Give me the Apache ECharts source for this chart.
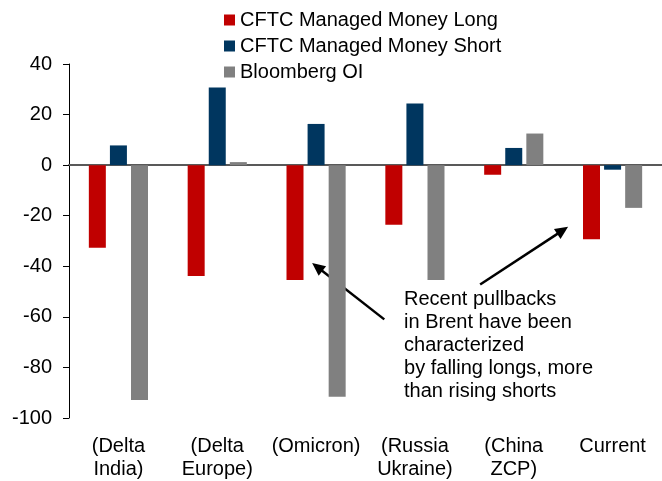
<!DOCTYPE html>
<html>
<head>
<meta charset="utf-8">
<script src="https://cdn.jsdelivr.net/npm/echarts@6/dist/echarts.min.js"></script>
<style>
html,body{margin:0;padding:0;background:#fff;}
#chart{width:662px;height:481px;}
</style>
</head>
<body>
<div id="chart"></div>
<script>
const categories = ['(Delta\nIndia)', '(Delta\nEurope)', '(Omicron)', '(Russia\nUkraine)', '(China\nZCP)', 'Current'];
const seriesNames = ['CFTC Managed Money Long', 'CFTC Managed Money Short', 'Bloomberg OI'];
const longValues = [-32.7, -43.8, -45.4, -23.6, -3.8, -29.3];
const shortValues = [7.8, 30.7, 16.3, 24.4, 6.8, -1.8];
const oiValues = [-92.9, 1.2, -91.6, -45.4, 12.5, -16.9];
const yTicks = {min: -100, max: 40, interval: 20};
const annotationText = 'Recent pullbacks\nin Brent have been\ncharacterized\nby falling longs, more\nthan rising shorts';

const FONT = 'Arial, "Liberation Sans", sans-serif';
const chart = echarts.init(document.getElementById('chart'), null, {renderer: 'canvas'});

const option = {
  animation: false,
  backgroundColor: '#ffffff',
  color: ['#C00000', '#00365F', '#808080'],
  textStyle: {fontFamily: FONT},
  legend: {
    orient: 'vertical',
    left: 224,
    top: 10,
    itemWidth: 11,
    itemHeight: 11,
    itemGap: 6,
    icon: 'rect',
    padding: 0,
    textStyle: {fontSize: 20, color: '#000', fontFamily: FONT, padding: [0, 0, 0, 0]},
    data: seriesNames
  },
  grid: {left: 69, right: -5, top: 64, bottom: 58, containLabel: false},
  xAxis: {
    type: 'category',
    data: categories,
    axisLine: {onZero: true, lineStyle: {color: '#595959', width: 2}},
    axisTick: {show: false},
    axisLabel: {
      interval: 0,
      margin: 17,
      fontSize: 20,
      lineHeight: 23,
      color: '#000',
      fontFamily: FONT,
      verticalAlign: 'top'
    },
    splitLine: {show: false}
  },
  yAxis: {
    type: 'value',
    min: yTicks.min,
    max: yTicks.max,
    interval: yTicks.interval,
    axisLine: {show: true, lineStyle: {color: '#000', width: 1}},
    axisTick: {show: true, length: 6, lineStyle: {color: '#000'}},
    axisLabel: {fontSize: 20, color: '#000', margin: 17, fontFamily: FONT},
    splitLine: {show: false}
  },
  series: [
    {name: seriesNames[0], type: 'bar', data: longValues, barWidth: 17, barGap: '24%'},
    {name: seriesNames[1], type: 'bar', data: shortValues, barWidth: 17, barGap: '24%'},
    {name: seriesNames[2], type: 'bar', data: oiValues, barWidth: 17, barGap: '24%'}
  ]
};
chart.setOption(option);

// Annotation anchored to data coordinates (fractional category index, value)
function toPx(f, v) {
  const c0 = chart.convertToPixel({xAxisIndex: 0}, categories[0]);
  const c1 = chart.convertToPixel({xAxisIndex: 0}, categories[1]);
  const y = chart.convertToPixel({yAxisIndex: 0}, v);
  return [c0 + f * (c1 - c0), y];
}
function arrow(from, to) {
  const dx = to[0] - from[0], dy = to[1] - from[1];
  const len = Math.sqrt(dx * dx + dy * dy);
  const ux = dx / len, uy = dy / len;
  const hl = 13, hw = 6;
  const bx = to[0] - ux * hl, by = to[1] - uy * hl;
  return [
    {type: 'line', shape: {x1: from[0], y1: from[1], x2: bx + ux * 2, y2: by + uy * 2}, style: {stroke: '#000', lineWidth: 2.5}},
    {type: 'polygon', shape: {points: [[to[0], to[1]], [bx - uy * hw, by + ux * hw], [bx + uy * hw, by - ux * hw]]}, style: {fill: '#000'}}
  ];
}
const a1 = arrow(toPx(2.69, -61), toPx(1.96, -38.7));
const a2 = arrow(toPx(3.66, -47.2), toPx(4.55, -24.4));
const tp = toPx(2.89, -48.6);
chart.setOption({
  graphic: a1.concat(a2).concat([{
    type: 'text',
    x: tp[0], y: tp[1],
    style: {text: annotationText, font: '20px ' + FONT, fill: '#000', lineHeight: 23, textAlign: 'left', textVerticalAlign: 'top'}
  }])
});
</script>
</body>
</html>
